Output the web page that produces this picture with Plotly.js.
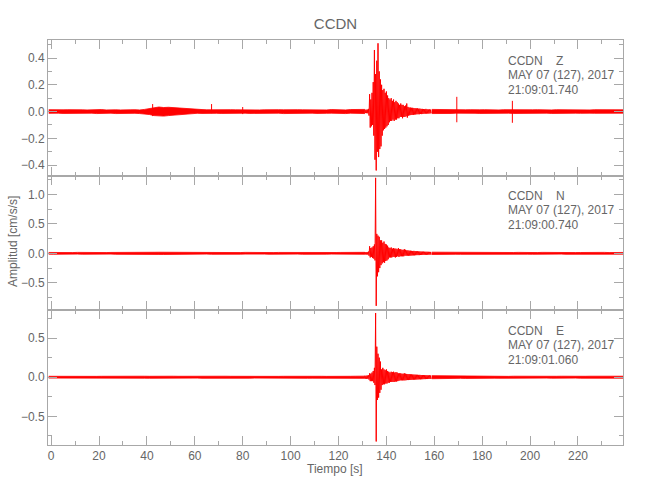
<!DOCTYPE html>
<html>
<head>
<meta charset="utf-8">
<script src="https://cdn.plot.ly/plotly-3.0.1.min.js"></script>
<style>html,body{margin:0;padding:0;background:#fff;}</style>
</head>
<body>
<div id="chart" style="width:650px;height:500px;"></div>
<script>
// ---- Sampling ----
// quiet noise is read as an envelope (upper / lower) every 2 s; the event is read sample by sample every 0.25 s
const preStart = -1, preStep = 2, preCount = 67;     // -1 .. 131 s
const evtStart = 131, evtStep = 0.25, evtCount = 112; // 131 .. 158.75 s
const postStart = 159, postStep = 2, postCount = 41;  // 159 .. 239 s

// ================= Channel Z (cm/s/s) =================
const zPreUp = [
0.014,0.012,0.015,0.013,0.014,0.012,0.015,0.013,0.012,0.014,
0.013,0.015,0.012,0.014,0.013,0.012,0.015,0.013,0.014,0.012,
0.016,0.02,0.028,0.034,0.03,0.032,0.029,0.026,0.022,0.019,
0.016,0.014,0.015,0.013,0.014,0.013,0.015,0.012,0.014,0.013,
0.012,0.015,0.013,0.014,0.012,0.013,0.015,0.012,0.014,0.013,
0.015,0.012,0.014,0.013,0.012,0.015,0.013,0.014,0.012,0.015,
0.013,0.014,0.012,0.015,0.014,0.013,0.016];
const zPreLo = [
-0.013,-0.015,-0.012,-0.014,-0.013,-0.015,-0.012,-0.014,-0.013,-0.012,
-0.015,-0.013,-0.014,-0.012,-0.015,-0.013,-0.012,-0.014,-0.013,-0.015,
-0.017,-0.022,-0.03,-0.033,-0.034,-0.03,-0.027,-0.025,-0.021,-0.018,
-0.015,-0.013,-0.014,-0.012,-0.015,-0.013,-0.014,-0.012,-0.013,-0.015,
-0.013,-0.012,-0.014,-0.013,-0.015,-0.012,-0.014,-0.013,-0.012,-0.015,
-0.013,-0.014,-0.012,-0.015,-0.013,-0.012,-0.014,-0.015,-0.013,-0.012,
-0.014,-0.013,-0.015,-0.012,-0.014,-0.013,-0.015];
const zEvt = [
0.012,-0.01,0.014,-0.012, 0.015,-0.013,0.02,-0.03,
0.13,-0.12,0.09,-0.11, 0.14,-0.1,0.22,-0.18,
0.46,-0.36,0.28,-0.44, 0.38,-0.3,0.51,-0.34,
0.3,-0.28,0.24,-0.26, 0.2,-0.18,0.16,-0.14,
0.17,-0.13,0.14,-0.12, 0.15,-0.11,0.12,-0.1,
0.1,-0.08,0.09,-0.07, 0.1,-0.07,0.08,-0.06,
0.09,-0.07,0.07,-0.06, 0.08,-0.06,0.07,-0.05,
0.06,-0.05,0.05,-0.04, 0.06,-0.04,0.05,-0.05,
0.05,-0.04,0.04,-0.04, 0.045,-0.035,0.06,-0.045,
0.035,-0.03,0.03,-0.028, 0.03,-0.026,0.028,-0.025,
0.028,-0.025,0.026,-0.022, 0.025,-0.022,0.024,-0.02,
0.024,-0.02,0.022,-0.02, 0.022,-0.018,0.02,-0.019,
0.02,-0.018,0.019,-0.016, 0.018,-0.016,0.02,-0.015,
0.017,-0.015,0.016,-0.015, 0.016,-0.014,0.015,-0.013];
const zPostUp = [
0.016,0.015,0.014,0.015,0.013,0.014,0.012,0.013,0.014,0.012,
0.013,0.014,0.012,0.013,0.012,0.014,0.013,0.012,0.014,0.013,
0.012,0.013,0.014,0.012,0.013,0.012,0.014,0.013,0.012,0.013,
0.014,0.012,0.013,0.012,0.014,0.013,0.012,0.013,0.014,0.012,
0.013];
const zPostLo = [
-0.015,-0.014,-0.015,-0.013,-0.014,-0.012,-0.013,-0.014,-0.012,-0.013,
-0.014,-0.012,-0.013,-0.014,-0.012,-0.013,-0.012,-0.014,-0.013,-0.012,
-0.013,-0.014,-0.012,-0.013,-0.012,-0.014,-0.013,-0.012,-0.014,-0.013,
-0.012,-0.013,-0.014,-0.012,-0.013,-0.012,-0.014,-0.013,-0.012,-0.013,
-0.012];
const zSpikeT  = [42.4, 67, 80, 169.4, 192.6];
const zSpikeHi = [0.056, 0.056, 0.034, 0.11, 0.08];
const zSpikeLo = [-0.034, -0.012, -0.019, -0.08, -0.084];

// ================= Channel N =================
const nPreUp = [
0.015,0.013,0.016,0.014,0.015,0.013,0.016,0.014,0.013,0.015,
0.014,0.016,0.013,0.015,0.014,0.013,0.016,0.014,0.015,0.013,
0.016,0.017,0.018,0.019,0.018,0.019,0.017,0.016,0.015,0.016,
0.014,0.015,0.016,0.013,0.015,0.014,0.016,0.013,0.015,0.014,
0.013,0.016,0.014,0.015,0.013,0.014,0.016,0.013,0.015,0.014,
0.016,0.013,0.015,0.014,0.013,0.016,0.014,0.015,0.013,0.016,
0.014,0.015,0.013,0.016,0.015,0.014,0.017];
const nPreLo = [
-0.014,-0.016,-0.013,-0.015,-0.014,-0.016,-0.013,-0.015,-0.014,-0.013,
-0.016,-0.014,-0.015,-0.013,-0.016,-0.014,-0.013,-0.015,-0.014,-0.016,
-0.017,-0.018,-0.019,-0.018,-0.019,-0.017,-0.016,-0.015,-0.016,-0.015,
-0.016,-0.014,-0.015,-0.013,-0.016,-0.014,-0.015,-0.013,-0.014,-0.016,
-0.014,-0.013,-0.015,-0.014,-0.016,-0.013,-0.015,-0.014,-0.013,-0.016,
-0.014,-0.015,-0.013,-0.016,-0.014,-0.013,-0.015,-0.016,-0.014,-0.013,
-0.015,-0.014,-0.016,-0.013,-0.015,-0.014,-0.016];
const nEvt = [
0.02,-0.018,0.022,-0.02, 0.02,-0.022,0.03,-0.04,
0.12,-0.07,0.09,-0.06, 0.1,-0.08,0.12,-0.09,
0.15,-0.12,1.28,-0.89, 0.33,-0.39,0.3,-0.32,
0.28,-0.25,0.22,-0.2, 0.22,-0.17,0.18,-0.15,
0.2,-0.16,0.16,-0.13, 0.15,-0.12,0.13,-0.1,
0.1,-0.07,0.09,-0.07, 0.1,-0.07,0.08,-0.06,
0.09,-0.06,0.08,-0.07, 0.08,-0.06,0.07,-0.05,
0.09,-0.06,0.07,-0.05, 0.07,-0.05,0.06,-0.05,
0.06,-0.05,0.07,-0.04, 0.06,-0.04,0.05,-0.04,
0.05,-0.04,0.045,-0.04, 0.045,-0.038,0.042,-0.036,
0.04,-0.035,0.042,-0.034, 0.038,-0.032,0.036,-0.03,
0.035,-0.03,0.033,-0.03, 0.032,-0.028,0.03,-0.027,
0.03,-0.026,0.029,-0.025, 0.028,-0.025,0.027,-0.024,
0.027,-0.024,0.026,-0.023, 0.025,-0.023,0.024,-0.022];
const nPostUp = [
0.02,0.019,0.018,0.019,0.017,0.018,0.016,0.017,0.015,0.016,
0.014,0.016,0.015,0.014,0.016,0.013,0.015,0.014,0.016,0.013,
0.015,0.014,0.013,0.016,0.014,0.015,0.013,0.016,0.014,0.015,
0.013,0.014,0.016,0.015,0.013,0.014,0.016,0.013,0.015,0.014,
0.015];
const nPostLo = [
-0.019,-0.02,-0.018,-0.017,-0.018,-0.016,-0.017,-0.015,-0.016,-0.015,
-0.016,-0.014,-0.015,-0.016,-0.013,-0.015,-0.014,-0.016,-0.013,-0.015,
-0.014,-0.016,-0.015,-0.013,-0.014,-0.016,-0.015,-0.013,-0.016,-0.014,
-0.015,-0.013,-0.014,-0.016,-0.015,-0.013,-0.014,-0.016,-0.013,-0.015,
-0.014];

// ================= Channel E =================
const ePreUp = [
0.012,0.011,0.013,0.012,0.011,0.013,0.012,0.011,0.013,0.012,
0.011,0.012,0.013,0.011,0.012,0.013,0.011,0.012,0.013,0.012,
0.013,0.012,0.014,0.013,0.012,0.014,0.013,0.012,0.013,0.011,
0.012,0.013,0.011,0.012,0.013,0.011,0.012,0.013,0.012,0.011,
0.013,0.012,0.011,0.013,0.012,0.011,0.013,0.012,0.011,0.012,
0.013,0.011,0.012,0.013,0.012,0.011,0.013,0.012,0.011,0.013,
0.012,0.011,0.013,0.012,0.013,0.012,0.014];
const ePreLo = [
-0.011,-0.013,-0.012,-0.011,-0.013,-0.012,-0.011,-0.013,-0.012,-0.011,
-0.013,-0.012,-0.011,-0.012,-0.013,-0.011,-0.012,-0.013,-0.011,-0.012,
-0.012,-0.013,-0.012,-0.014,-0.013,-0.012,-0.013,-0.012,-0.011,-0.013,
-0.012,-0.011,-0.013,-0.012,-0.011,-0.013,-0.012,-0.011,-0.013,-0.012,
-0.011,-0.013,-0.012,-0.011,-0.012,-0.013,-0.011,-0.012,-0.013,-0.011,
-0.012,-0.013,-0.011,-0.012,-0.013,-0.012,-0.011,-0.013,-0.012,-0.011,
-0.013,-0.012,-0.011,-0.013,-0.012,-0.013,-0.014];
const eEvt = [
0.02,-0.018,0.02,-0.02, 0.022,-0.02,0.025,-0.03,
0.05,-0.05,0.045,-0.05, 0.06,-0.05,0.08,-0.07,
0.12,-0.1,0.82,-0.82, 0.39,-0.29,0.3,-0.26,
0.25,-0.2,0.2,-0.16, 0.1,-0.1,0.12,-0.09,
0.1,-0.09,0.09,-0.08, 0.1,-0.08,0.08,-0.07,
0.07,-0.07,0.06,-0.06, 0.07,-0.06,0.065,-0.06,
0.07,-0.06,0.06,-0.055, 0.065,-0.055,0.06,-0.05,
0.05,-0.045,0.05,-0.04, 0.05,-0.04,0.045,-0.04,
0.045,-0.04,0.05,-0.04, 0.045,-0.038,0.042,-0.036,
0.04,-0.036,0.04,-0.035, 0.038,-0.034,0.036,-0.032,
0.035,-0.032,0.034,-0.03, 0.033,-0.03,0.032,-0.029,
0.031,-0.028,0.03,-0.027, 0.03,-0.027,0.028,-0.026,
0.028,-0.025,0.027,-0.024, 0.027,-0.024,0.026,-0.023,
0.025,-0.023,0.024,-0.022, 0.024,-0.022,0.023,-0.021];
const ePostUp = [
0.02,0.019,0.018,0.017,0.016,0.015,0.016,0.014,0.015,0.013,
0.014,0.012,0.013,0.014,0.012,0.013,0.011,0.013,0.012,0.011,
0.013,0.012,0.011,0.013,0.012,0.011,0.012,0.013,0.011,0.012,
0.013,0.011,0.012,0.013,0.012,0.011,0.013,0.012,0.011,0.012,
0.013];
const ePostLo = [
-0.019,-0.018,-0.017,-0.016,-0.015,-0.016,-0.014,-0.015,-0.013,-0.014,
-0.012,-0.013,-0.014,-0.012,-0.013,-0.011,-0.013,-0.012,-0.011,-0.013,
-0.012,-0.011,-0.013,-0.012,-0.011,-0.012,-0.013,-0.011,-0.012,-0.013,
-0.011,-0.012,-0.013,-0.012,-0.011,-0.013,-0.012,-0.011,-0.012,-0.013,
-0.012];

// ---- Texts ----
const stationTitle = 'CCDN';
const channelLabels = ['CCDN\u00a0\u00a0\u00a0\u00a0Z', 'CCDN\u00a0\u00a0\u00a0\u00a0N', 'CCDN\u00a0\u00a0\u00a0\u00a0E'];
const dateLabel = 'MAY 07 (127), 2017';
const timeLabels = ['21:09:01.740', '21:09:00.740', '21:09:01.060'];
const xTitle = 'Tiempo [s]';
const yTitle = 'Amplitud [cm/s/s]';

// ---- Sample times ----
function seg(start, step, count) { const a = []; for (let i = 0; i < count; i++) a.push(start + i * step); return a; }
const tPre = seg(preStart, preStep, preCount);
const tEvt = seg(evtStart, evtStep, evtCount);
const tPost = seg(postStart, postStep, postCount);

const FONT = 'Liberation Sans, Arial, sans-serif';
const AX = '#a8a8a8';
const TXT = '#666666';
const RED = '#ff0000';

const traces = [];
function band(t, up, lo, xa, ya) {
  traces.push({x: t.concat(t.slice().reverse()), y: up.concat(lo.slice().reverse()),
    xaxis: xa, yaxis: ya, type: 'scatter', mode: 'lines', fill: 'toself', fillcolor: RED,
    line: {color: RED, width: 0.8}, hoverinfo: 'skip'});
}
function addChannel(preUp, preLo, evt, postUp, postLo, xa, ya, spT, spHi, spLo) {
  band(tPre, preUp, preLo, xa, ya);
  band(tPost, postUp, postLo, xa, ya);
  traces.push({x: tEvt, y: evt, xaxis: xa, yaxis: ya, type: 'scatter', mode: 'lines',
    line: {color: RED, width: 1}, hoverinfo: 'skip'});
  if (spT) {
    const sx = [], sy = [];
    spT.forEach((tt, i) => { sx.push(tt, tt, null); sy.push(spLo[i], spHi[i], null); });
    traces.push({x: sx, y: sy, xaxis: xa, yaxis: ya, type: 'scatter', mode: 'lines',
      line: {color: RED, width: 1}, hoverinfo: 'skip'});
  }
}
addChannel(zPreUp, zPreLo, zEvt, zPostUp, zPostLo, 'x3', 'y', zSpikeT, zSpikeHi, zSpikeLo);
addChannel(nPreUp, nPreLo, nEvt, nPostUp, nPostLo, 'x2', 'y2');
addChannel(ePreUp, ePreLo, eEvt, ePostUp, ePostLo, 'x', 'y3');

function axisBase() {
  return {showline: true, linecolor: AX, linewidth: 1, mirror: 'allticks', ticks: 'inside', ticklen: 9,
    tickcolor: AX, tickwidth: 1, showgrid: false, zeroline: false, tickfont: {family: FONT, size: 12, color: TXT}};
}
const xr = [-1.3, 238.8];
function xAxis(anchor, labels) {
  return Object.assign(axisBase(), {range: xr, anchor: anchor, tick0: 0, dtick: 20, showticklabels: labels,
    minor: {ticks: 'inside', ticklen: 4, dtick: 10, tickcolor: AX}});
}
function yAxis(domain, range, dtick, minor) {
  return Object.assign(axisBase(), {domain: domain, range: range, tick0: 0, dtick: dtick, tickformat: '.1f',
    minor: {ticks: 'inside', ticklen: 4, dtick: minor, tickcolor: AX}});
}

const ann = [];
function addLabels(i, offsetPx) {
  const lines = [channelLabels[i], dateLabel, timeLabels[i]];
  const ys = [61, 75, 89.5];
  lines.forEach((s, k) => {
    ann.push({text: s, xref: 'paper', yref: 'paper', x: (506 - 48) / 575, y: (445 - (ys[k] + offsetPx)) / 405,
      xanchor: 'left', yanchor: 'middle', showarrow: false, font: {family: FONT, size: 12, color: TXT}});
  });
}
addLabels(0, 0); addLabels(1, 135); addLabels(2, 270);
ann.push({text: xTitle, xref: 'paper', yref: 'paper', x: (335 - 48) / 575, y: (445 - 469) / 405, xanchor: 'center', yanchor: 'middle',
  showarrow: false, font: {family: FONT, size: 12, color: TXT}});
ann.push({text: yTitle, xref: 'paper', yref: 'paper', x: (13 - 48) / 575, y: (445 - 242) / 405, xanchor: 'center', yanchor: 'middle',
  textangle: -90, showarrow: false, font: {family: FONT, size: 12, color: TXT}});

const layout = {
  width: 650, height: 500,
  margin: {l: 48, r: 27, t: 40, b: 55},
  paper_bgcolor: '#ffffff', plot_bgcolor: '#ffffff',
  showlegend: false,
  title: {text: stationTitle, x: 0.5, xref: 'paper', xanchor: 'center', y: 1 - 24 / 500, yref: 'container', yanchor: 'middle',
    font: {family: FONT, size: 15, color: TXT}},
  xaxis: xAxis('y3', true),
  xaxis2: xAxis('y2', false),
  xaxis3: xAxis('y', false),
  yaxis: yAxis([0.664, 1], [-0.482, 0.5346], 0.2, 0.1),
  yaxis2: yAxis([0.3333, 0.664], [-0.961, 1.31], 0.5, 0.25),
  yaxis3: yAxis([0, 0.3333], [-0.865, 0.858], 0.5, 0.25),
  annotations: ann
};

Plotly.newPlot('chart', traces, layout, {staticPlot: true, displayModeBar: false});
</script>
</body>
</html>
